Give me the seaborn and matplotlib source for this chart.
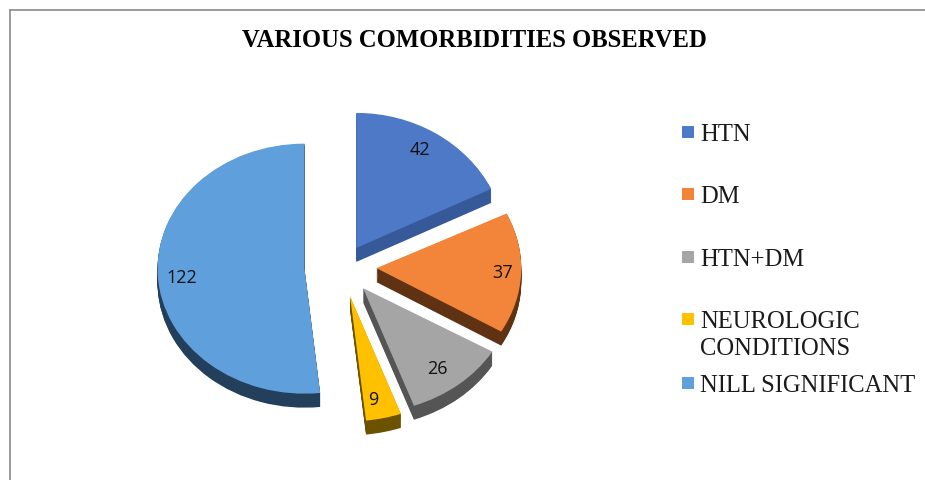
import matplotlib
matplotlib.use("Agg")
import matplotlib.pyplot as plt
import seaborn as sns
from matplotlib.lines import Line2D
from matplotlib.patches import Rectangle
from matplotlib.transforms import Affine2D
import numpy as np

categories = ["HTN", "DM", "HTN+DM", "NEUROLOGIC\nCONDITIONS", "NILL SIGNIFICANT"]
values = [42, 37, 26, 9, 122]
explode = [0.18, 0.23, 0.22, 0.24, 0.25]
label_dist = [0.85, 0.87, 0.81, 0.84, 0.84]
label_turn = [2, 0, -2, -2.5, 1.5]
face_colors = ["#4E79C6", "#F3853A", "#A5A5A5", "#FFC000", "#5F9FDB"]
side_colors = ["#36599A", "#5E3213", "#555555", "#6B5100", "#243F5C"]
legend_y_px = [133, 195, 258, 320, 384]
# The source's perspective draws the slices at slightly different sizes
scale_x = [1.0, 0.965, 1.0, 1.0, 0.98]
scale_y = [1.08, 1.0, 1.0, 1.0, 1.0]

W, H = 925, 481
sns.set_theme(style="white")
fig = plt.figure(figsize=(W / 100, H / 100), dpi=100, facecolor="white")
ax = fig.add_axes([0, 0, 1, 1])

CX, CY, RX, RY, DEPTH = 342, 268, 150, 125, 14
palette = sns.color_palette(face_colors)
sides = sns.color_palette(side_colors)


def rescale(patches):
    for w, sx, sy in zip(patches, scale_x, scale_y):
        cx, cy = w.center
        w.set_transform(Affine2D().translate(-cx, -cy).scale(sx, sy).translate(cx, cy) + ax.transData)


# Extruded body: the same pie stacked downwards in the darker colours
for k in np.linspace(DEPTH / RY, 0.005, 16):
    body, _ = ax.pie(values, explode=explode, startangle=90, counterclock=False,
                     colors=sides, center=(0, -k), radius=1,
                     wedgeprops=dict(linewidth=0))
    rescale(body)
wedges, _ = ax.pie(values, explode=explode, startangle=90, counterclock=False,
                   colors=palette, center=(0, 0), radius=1,
                   wedgeprops=dict(linewidth=0))
rescale(wedges)

for w, v, d, t, sx, sy in zip(wedges, values, label_dist, label_turn, scale_x, scale_y):
    a = np.deg2rad((w.theta1 + w.theta2) / 2 + t)
    ax.text(w.center[0] + sx * d * np.cos(a), w.center[1] + sy * d * np.sin(a), str(v),
            ha="center", va="center", fontsize=13, color="#111111", family="Open Sans")

ax.set_aspect("auto")
ax.set_xlim(-CX / RX, (W - CX) / RX)
ax.set_ylim((CY - H) / RY, CY / RY)
ax.axis("off")

fig.text(474 / W, 1 - 41 / H, "VARIOUS COMORBIDITIES OBSERVED", ha="center", va="center",
         fontsize=17.7, fontweight="bold", family="Liberation Serif", color="black")

for name, y, c in zip(categories, legend_y_px, palette):
    fig.add_artist(Rectangle((682 / W, 1 - (y + 6) / H), 12 / W, 12 / H,
                             transform=fig.transFigure, facecolor=c, edgecolor="none"))
    fig.text(700 / W, 1 - (y - 9) / H, name, ha="left", va="top", fontsize=17.7,
             family="Liberation Serif", color="#1a1a1a", linespacing=1.28)

line = dict(color="#8a8a8a", linewidth=1.2, transform=fig.transFigure)
fig.add_artist(Line2D([9.5 / W, 9.5 / W], [0, 1 - 11 / H], **line))
fig.add_artist(Line2D([9.5 / W, 1], [1 - 11 / H, 1 - 11 / H], **line))

fig.savefig("out.png", dpi=100)
